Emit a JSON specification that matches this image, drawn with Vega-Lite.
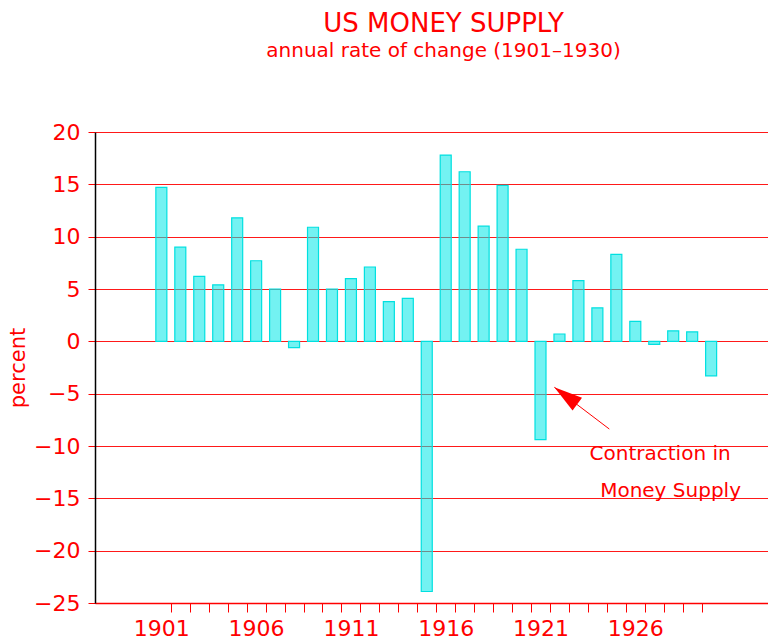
{
  "$schema": "https://vega.github.io/schema/vega-lite/v6.json",
  "width": 673,
  "height": 471,
  "autosize": {"type": "none"},
  "padding": {"left": 95, "top": 132, "right": 0, "bottom": 37},
  "background": "white",
  "config": {
    "view": {"stroke": null},
    "font": "DejaVu Sans"
  },
  "title": {
    "text": "US MONEY SUPPLY",
    "subtitle": "annual rate of change (1901\u20131930)",
    "anchor": "middle",
    "dx": 12,
    "offset": 60,
    "color": "#ff0000",
    "subtitleColor": "#ff0000",
    "fontSize": 26,
    "fontWeight": "normal",
    "subtitleFontSize": 20,
    "subtitlePadding": 4,
    "font": "DejaVu Sans",
    "subtitleFont": "DejaVu Sans"
  },
  "datasets": {
    "supply": [
      {"year": 1901, "change": 14.7},
      {"year": 1902, "change": 9.0},
      {"year": 1903, "change": 6.2},
      {"year": 1904, "change": 5.4},
      {"year": 1905, "change": 11.8},
      {"year": 1906, "change": 7.7},
      {"year": 1907, "change": 5.0},
      {"year": 1908, "change": -0.6},
      {"year": 1909, "change": 10.9},
      {"year": 1910, "change": 5.0},
      {"year": 1911, "change": 6.0},
      {"year": 1912, "change": 7.1},
      {"year": 1913, "change": 3.8},
      {"year": 1914, "change": 4.1},
      {"year": 1915, "change": -23.9},
      {"year": 1916, "change": 17.8},
      {"year": 1917, "change": 16.2},
      {"year": 1918, "change": 11.0},
      {"year": 1919, "change": 14.9},
      {"year": 1920, "change": 8.8},
      {"year": 1921, "change": -9.4},
      {"year": 1922, "change": 0.7},
      {"year": 1923, "change": 5.8},
      {"year": 1924, "change": 3.2},
      {"year": 1925, "change": 8.3},
      {"year": 1926, "change": 1.9},
      {"year": 1927, "change": -0.3},
      {"year": 1928, "change": 1.0},
      {"year": 1929, "change": 0.9},
      {"year": 1930, "change": -3.3}
    ],
    "notes": [
      {"year": 1927.31, "change": -11.34, "label": "Contraction in"},
      {"year": 1927.86, "change": -14.85, "label": "Money Supply"}
    ],
    "arrow": [
      {"year": 1921.73, "change": -4.39, "year2": 1924.63, "change2": -8.38}
    ]
  },
  "layer": [
    {
      "data": {"name": "supply"},
      "mark": {"type": "bar", "size": 11, "fill": "#00e8e8", "fillOpacity": 0.55, "stroke": "#00e0e0", "strokeWidth": 1.2},
      "encoding": {
        "x": {
          "field": "year",
          "type": "quantitative",
          "scale": {"domain": [1897.5, 1933], "nice": false, "zero": false, "padding": 0},
          "axis": {
            "title": null,
            "values": [1901.5, 1902.5, 1903.5, 1904.5, 1905.5, 1906.5, 1907.5, 1908.5, 1909.5, 1910.5, 1911.5, 1912.5, 1913.5, 1914.5, 1915.5, 1916.5, 1917.5, 1918.5, 1919.5, 1920.5, 1921.5, 1922.5, 1923.5, 1924.5, 1925.5, 1926.5, 1927.5, 1928.5, 1929.5],
            "tickCount": 100,
            "labelExpr": "(floor(datum.value) - 1901) % 5 == 0 ? '' + floor(datum.value) : ''",
            "labelOffset": -9.5,
            "labelOverlap": false,
            "labelFlush": false,
            "labelColor": "#ff0000",
            "labelFontSize": 22,
            "labelPadding": 6,
            "tickColor": "#ff0000",
            "tickSize": 9,
            "domainColor": "#ff0000",
            "domainWidth": 1.5,
            "grid": false
          }
        },
        "y": {
          "field": "change",
          "type": "quantitative",
          "scale": {"domain": [-25, 20], "nice": false},
          "axis": {
            "title": "percent",
            "titleColor": "#ff0000",
            "titleFontSize": 21,
            "titleFontWeight": "normal",
            "titleX": -71,
            "titleBaseline": "alphabetic",
            "values": [-25, -20, -15, -10, -5, 0, 5, 10, 15, 20],
            "labelColor": "#ff0000",
            "labelFontSize": 22,
            "labelPadding": 8,
            "tickColor": "#ff0000",
            "tickSize": 7,
            "domainColor": "#000000",
            "domainWidth": 1.5,
            "grid": true,
            "gridColor": "#ff0000",
            "gridWidth": 1,
            "gridOpacity": 0.9
          }
        }
      }
    },
    {
      "mark": {"type": "rule", "color": "#70c4c4", "strokeWidth": 1.5},
      "encoding": {"y": {"datum": 0}}
    },
    {
      "data": {"name": "arrow"},
      "mark": {"type": "rule", "color": "#ff0000", "strokeWidth": 1},
      "encoding": {
        "x": {"field": "year", "type": "quantitative"},
        "y": {"field": "change", "type": "quantitative"},
        "x2": {"field": "year2"},
        "y2": {"field": "change2"}
      }
    },
    {
      "data": {"name": "arrow"},
      "mark": {"type": "point", "shape": "M0,0L0.56,2L-0.56,2Z", "size": 812, "filled": true, "fill": "#ff0000", "fillOpacity": 1, "strokeWidth": 0, "angle": 306.4},
      "encoding": {
        "x": {"field": "year", "type": "quantitative"},
        "y": {"field": "change", "type": "quantitative"}
      }
    },
    {
      "data": {"name": "notes"},
      "mark": {"type": "text", "color": "#ff0000", "fontSize": 20, "align": "center", "baseline": "alphabetic"},
      "encoding": {
        "x": {"field": "year", "type": "quantitative"},
        "y": {"field": "change", "type": "quantitative"},
        "text": {"field": "label"}
      }
    }
  ]
}
